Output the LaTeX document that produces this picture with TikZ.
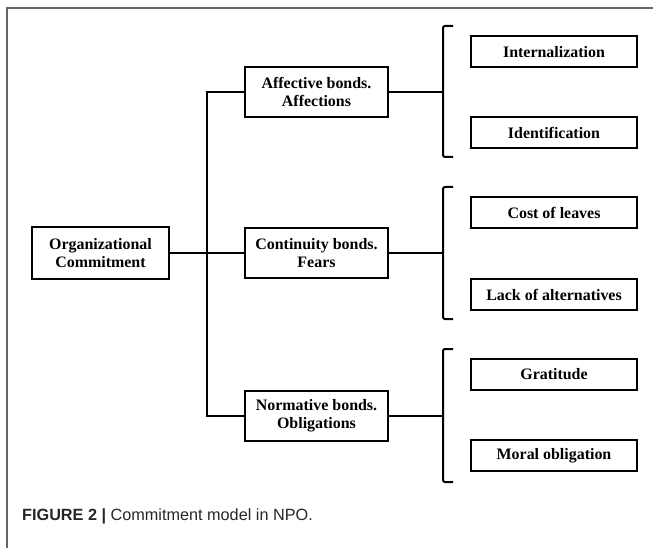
\documentclass[tikz,border=0pt]{standalone}
\usepackage{fontspec}
\setmainfont{Liberation Serif}
\newfontfamily\capfont{Liberation Sans}
\begin{document}
\begin{tikzpicture}[x=1bp,y=-1bp,
  box/.style={draw=black,line width=2bp,inner sep=0pt,align=center,
    font=\bfseries\fontsize{16}{18}\selectfont},
  midbox/.style={box,minimum width=143bp,minimum height=50bp},
  leafbox/.style={box,minimum width=166bp,minimum height=31bp},
  conn/.style={line width=2bp,draw=black},
  brace/.style={line width=2bp,draw=black,rounded corners=2bp},
  frame/.style={line width=2bp,draw=black!60}]
\useasboundingbox (0,0) rectangle (654,548);
% frame
\draw[frame] (7,548) -- (7,8) -- (653,8);
% nodes
\node[box,minimum width=137bp,minimum height=51bp] (org) at (100.5,253) {Organizational\\Commitment};
\node[midbox] (aff) at (316.5,92) {Affective bonds.\\Affections};
\node[midbox] (con) at (316.5,253) {Continuity bonds.\\Fears};
\node[midbox] (nor) at (316.5,416) {Normative bonds.\\Obligations};
\node[leafbox] (int) at (554,52) {Internalization};
\node[leafbox] (ide) at (554,132.5) {Identification};
\node[leafbox] (cost) at (554,212.5) {Cost of leaves};
\node[leafbox] (lack) at (554,294.5) {Lack of alternatives};
\node[leafbox] (gra) at (554,374) {Gratitude};
\node[leafbox] (mor) at (554,455.5) {Moral obligation};
% trunk
\coordinate (jt) at (207,92);
\coordinate (jb) at (207,416);
\draw[conn] (org.east) -- (con.west);
\draw[conn] (aff.west) -- (jt) -- (jb) -- (nor.west);
% braces
\coordinate (b1) at (443,92);
\coordinate (b2) at (443,253);
\coordinate (b3) at (443,416);
\draw[conn] (aff.east) -- (b1);
\draw[conn] (con.east) -- (b2);
\draw[conn] (nor.east) -- (b3);
\draw[brace] (453,26) -- (443,26) -- (443,157) -- (453,157);
\draw[brace] (453,187) -- (443,187) -- (443,319) -- (453,319);
\draw[brace] (453,349) -- (443,349) -- (443,482) -- (453,482);
% caption
\node[anchor=base west,inner sep=0pt,text=black!85,font=\capfont\fontsize{16.3}{18}\selectfont] (cap) at (22,520) {\textbf{FIGURE 2 |} Commitment model in NPO.};
\end{tikzpicture}
\end{document}
